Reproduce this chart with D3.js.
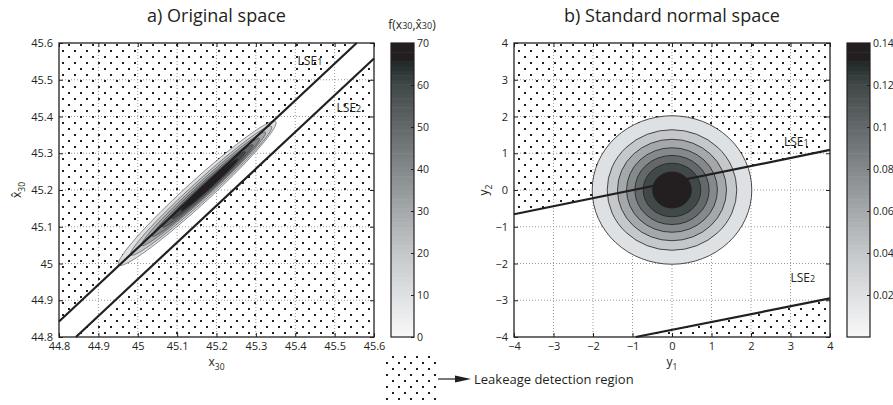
<!DOCTYPE html>
<html>
<head>
<meta charset="utf-8">
<style>
  body { margin: 0; background: #fff; }
  text { font-family: 'Open Sans', 'Noto Sans', sans-serif; fill: #231f20; }
  .tick text { font-size: 11px; }
  .tick line { stroke: #231f20; }
  .grid line { stroke: #9a9a9a; stroke-dasharray: 1,2; }
</style>
</head>
<body>
<script src="https://cdn.jsdelivr.net/npm/d3@7"></script>
<script>
// ---- data ----
const leftTicks = [44.8, 44.9, 45.0, 45.1, 45.2, 45.3, 45.4, 45.5, 45.6];
const leftTickLabels = ["44.8", "44.9", "45", "45.1", "45.2", "45.3", "45.4", "45.5", "45.6"];
const rightTicks = [-4, -3, -2, -1, 0, 1, 2, 3, 4];
const rightTickLabels = ["\u22124", "\u22123", "\u22122", "\u22121", "0", "1", "2", "3", "4"];

// left colour bar (density of x30, x^30)
const leftCbarTicks = [0, 10, 20, 30, 40, 50, 60, 70];
// right colour bar (standard normal density)
const rightCbarTicks = [0.02, 0.04, 0.06, 0.08, 0.1, 0.12, 0.14];
const rightCbarLabels = ["0.02", "0.04", "0.06", "0.08", "0.1", "0.12", "0.14"];

// colour map stops (fraction of colour bar, colour)
const cmapStops = [0, 0.14, 0.29, 0.43, 0.57, 0.71, 0.86, 0.935, 0.94, 1];
const cmapColors = ["#f8f8f9", "#dfe1e3", "#c4c7ca", "#a4a8ab", "#84898c", "#646a6c", "#404747", "#202a2a", "#231f20", "#231f20"];

// left contours: level, centre, semi-major, semi-minor (data units)
const leftLevels = [10, 20, 30, 40, 50, 60, 70];
const leftCx = [45.151, 45.161, 45.167, 45.173, 45.178, 45.180, 45.182];
const leftCy = [45.191, 45.198, 45.203, 45.207, 45.211, 45.213, 45.214];
const leftSemiMajor = [0.279, 0.25, 0.22, 0.19, 0.16, 0.13, 0.10];
const leftSemiMinor = [0.031, 0.0245, 0.0195, 0.0158, 0.0125, 0.0098, 0.0072];
const leftAxisDir = [0.398, 0.390];   // direction of the major axis

// right contours: level and radius
const rightLevels = [0.02, 0.04, 0.06, 0.08, 0.10, 0.12, 0.14];
const rightRadii = [2.02, 1.64, 1.38, 1.15, 0.94, 0.73, 0.49];

// limit state lines (end points)
const leftLse1 = [[44.8, 44.842], [45.556, 45.6]];
const leftLse2 = [[44.843, 44.8], [45.6, 45.558]];
const rightLse1 = [[-4, -0.66], [4, 1.09]];
const rightLse2 = [[-0.92, -4], [4, -2.95]];

// ---- layout ----
const W = 893, H = 405;
const L = {x0: 59, x1: 374, y0: 43, y1: 337};
const R = {x0: 514, x1: 830, y0: 43, y1: 337};
const LC = {x0: 391, x1: 414};
const RC = {x0: 847, x1: 870};

const svg = d3.select("body").append("svg").attr("width", W).attr("height", H);

const defs = svg.append("defs");
const pat = defs.append("pattern").attr("id", "dots")
  .attr("patternUnits", "userSpaceOnUse").attr("width", 12).attr("height", 12);
pat.append("rect").attr("x", 2).attr("y", 2).attr("width", 2).attr("height", 2).attr("fill", "#231f20");
pat.append("rect").attr("x", 8).attr("y", 8).attr("width", 2).attr("height", 2).attr("fill", "#231f20");

const cmap = d3.scaleLinear().domain(cmapStops).range(cmapColors).clamp(true);

const xL = d3.scaleLinear().domain([44.8, 45.6]).range([L.x0, L.x1]);
const yL = d3.scaleLinear().domain([44.8, 45.6]).range([L.y1, L.y0]);
const xR = d3.scaleLinear().domain([-4, 4]).range([R.x0, R.x1]);
const yR = d3.scaleLinear().domain([-4, 4]).range([R.y1, R.y0]);

function panelGrid(g, x, y, ticks, box) {
  const grid = g.append("g").attr("class", "grid");
  grid.selectAll(".gx").data(ticks.slice(1, -1)).enter().append("line")
    .attr("x1", d => x(d)).attr("x2", d => x(d)).attr("y1", box.y0).attr("y2", box.y1);
  grid.selectAll(".gy").data(ticks.slice(1, -1)).enter().append("line")
    .attr("y1", d => y(d)).attr("y2", d => y(d)).attr("x1", box.x0).attr("x2", box.x1);
}

function panelFrame(g, x, y, ticks, labels, box) {
  const fmt = (d, i) => labels[i];
  g.append("g").attr("transform", `translate(0,${box.y1})`)
    .call(d3.axisBottom(x).tickValues(ticks).tickFormat(fmt).tickSizeInner(-4).tickSizeOuter(0).tickPadding(5))
    .call(a => a.select(".domain").remove());
  g.append("g").attr("transform", `translate(0,${box.y0})`)
    .call(d3.axisTop(x).tickValues(ticks).tickFormat("").tickSizeInner(-4).tickSizeOuter(0))
    .call(a => a.select(".domain").remove());
  g.append("g").attr("transform", `translate(${box.x0},0)`)
    .call(d3.axisLeft(y).tickValues(ticks).tickFormat(fmt).tickSizeInner(-4).tickSizeOuter(0).tickPadding(6))
    .call(a => a.select(".domain").remove());
  g.append("g").attr("transform", `translate(${box.x1},0)`)
    .call(d3.axisRight(y).tickValues(ticks).tickFormat("").tickSizeInner(-4).tickSizeOuter(0))
    .call(a => a.select(".domain").remove());
  g.append("rect").attr("x", box.x0).attr("y", box.y0)
    .attr("width", box.x1 - box.x0).attr("height", box.y1 - box.y0)
    .attr("fill", "none").attr("stroke", "#231f20").attr("stroke-width", 1.3);
}

function colorbar(x0, x1, domain, ticks, labels) {
  const cy = d3.scaleLinear().domain(domain).range([L.y1, L.y0]);
  const g = svg.append("g");
  const n = 64, step = (domain[1] - domain[0]) / n;
  g.selectAll("rect.c").data(d3.range(n)).enter().append("rect")
    .attr("x", x0).attr("width", x1 - x0)
    .attr("y", i => cy(domain[0] + (i + 1) * step))
    .attr("height", i => cy(domain[0] + i * step) - cy(domain[0] + (i + 1) * step) + 0.5)
    .attr("fill", i => cmap((i + 0.5) / n));
  g.append("g").attr("transform", `translate(${x1},0)`)
    .call(d3.axisRight(cy).tickValues(ticks).tickFormat((d, i) => labels[i]).tickSizeInner(-3).tickSizeOuter(0).tickPadding(3))
    .call(a => a.select(".domain").remove())
    .call(a => a.selectAll("text").style("font-size", "10.5px"));
  g.append("rect").attr("x", x0).attr("y", L.y0).attr("width", x1 - x0).attr("height", L.y1 - L.y0)
    .attr("fill", "none").attr("stroke", "#231f20").attr("stroke-width", 1.2);
}

const line = (x, y) => d3.line().x(d => x(d[0])).y(d => y(d[1]));

// ---------------- left panel ----------------
const gl = svg.append("g");
panelGrid(gl, xL, yL, leftTicks, L);
gl.append("path").attr("fill", "url(#dots)")
  .attr("d", line(xL, yL)([leftLse1[0], leftLse1[1], [44.8, 45.6]]) + "Z");
gl.append("path").attr("fill", "url(#dots)")
  .attr("d", line(xL, yL)([leftLse2[0], leftLse2[1], [45.6, 44.8]]) + "Z");

const un = Math.hypot(leftAxisDir[0], leftAxisDir[1]);
const ux = leftAxisDir[0] / un, uy = leftAxisDir[1] / un;
const vx = uy, vy = -ux;
function ellipsePts(cx, cy, a, b) {
  return d3.range(0, 121).map(k => {
    const t = k / 120 * 2 * Math.PI;
    return [cx + a * Math.cos(t) * ux + b * Math.sin(t) * vx,
            cy + a * Math.cos(t) * uy + b * Math.sin(t) * vy];
  });
}
leftLevels.forEach((lev, i) => {
  gl.append("path")
    .attr("d", line(xL, yL)(ellipsePts(leftCx[i], leftCy[i], leftSemiMajor[i], leftSemiMinor[i])) + "Z")
    .attr("fill", cmap(lev / 70))
    .attr("stroke", "#231f20").attr("stroke-width", 0.5);
});

[leftLse1, leftLse2].forEach(l => {
  gl.append("path").attr("d", line(xL, yL)(l)).attr("stroke", "#231f20").attr("stroke-width", 2.2).attr("fill", "none");
});
panelFrame(gl, xL, yL, leftTicks, leftTickLabels, L);

function lseLabel(g, x, y, px, py, sub) {
  const t = g.append("text").attr("x", x(px)).attr("y", y(py)).attr("font-size", 12).text("LSE");
  t.append("tspan").attr("font-size", 9).text(sub);
}
lseLabel(gl, xL, yL, 45.406, 45.54, "1");
lseLabel(gl, xL, yL, 45.505, 45.412, "2");

// ---------------- right panel ----------------
const gr = svg.append("g");
panelGrid(gr, xR, yR, rightTicks, R);
gr.append("path").attr("fill", "url(#dots)")
  .attr("d", line(xR, yR)([rightLse1[0], rightLse1[1], [4, 4], [-4, 4]]) + "Z");
gr.append("path").attr("fill", "url(#dots)")
  .attr("d", line(xR, yR)([rightLse2[0], rightLse2[1], [4, -4]]) + "Z");

rightLevels.forEach((lev, i) => {
  const r = rightRadii[i];
  gr.append("ellipse")
    .attr("cx", xR(0)).attr("cy", yR(0))
    .attr("rx", xR(r) - xR(0)).attr("ry", yR(0) - yR(r))
    .attr("fill", cmap(lev / 0.14))
    .attr("stroke", "#231f20").attr("stroke-width", 0.8);
});
[rightLse1, rightLse2].forEach(l => {
  gr.append("path").attr("d", line(xR, yR)(l)).attr("stroke", "#231f20").attr("stroke-width", 2.2).attr("fill", "none");
});
panelFrame(gr, xR, yR, rightTicks, rightTickLabels, R);
lseLabel(gr, xR, yR, 2.835, 1.2, "1");
lseLabel(gr, xR, yR, 3.0, -2.5, "2");

// ---------------- colour bars ----------------
colorbar(LC.x0, LC.x1, [0, 70], leftCbarTicks, leftCbarTicks.map(String));
colorbar(RC.x0, RC.x1, [0, 0.14], rightCbarTicks, rightCbarLabels);

// ---------------- titles and labels ----------------
svg.append("text").attr("x", (L.x0 + L.x1) / 2).attr("y", 22).attr("text-anchor", "middle")
  .attr("font-size", 18).text("a) Original space");
svg.append("text").attr("x", (R.x0 + R.x1) / 2).attr("y", 22).attr("text-anchor", "middle")
  .attr("font-size", 18).text("b) Standard normal space");

const cbl = svg.append("text").attr("x", 412).attr("y", 29).attr("text-anchor", "middle").attr("font-size", 12);
cbl.append("tspan").text("f(x");
cbl.append("tspan").attr("font-size", 9).text("30");
cbl.append("tspan").text(",x\u0302");
cbl.append("tspan").attr("font-size", 9).text("30");
cbl.append("tspan").text(")");

function subLabel(x, y, base, sub, rotate) {
  const t = svg.append("text").attr("x", x).attr("y", y).attr("text-anchor", "middle").attr("font-size", 12);
  if (rotate) t.attr("transform", `rotate(-90,${x},${y})`);
  t.append("tspan").text(base);
  t.append("tspan").attr("font-size", 8.5).attr("dy", 4).text(sub);
}
subLabel((L.x0 + L.x1) / 2, 366, "x", "30", false);
subLabel(21, (L.y0 + L.y1) / 2, "x\u0302", "30", true);
subLabel((R.x0 + R.x1) / 2, 366, "y", "1", false);
subLabel(488, (R.y0 + R.y1) / 2, "y", "2", true);

// ---------------- legend ----------------
svg.append("rect").attr("x", 385).attr("y", 356).attr("width", 52).attr("height", 47).attr("fill", "url(#dots)");
svg.append("line").attr("x1", 438).attr("x2", 457).attr("y1", 379).attr("y2", 379)
  .attr("stroke", "#231f20").attr("stroke-width", 1.2);
svg.append("path").attr("d", "M455,375.5L471,379L455,382.5Z").attr("fill", "#231f20");
svg.append("text").attr("x", 474).attr("y", 384).attr("font-size", 13).text("Leakeage detection region");
</script>
</body>
</html>
